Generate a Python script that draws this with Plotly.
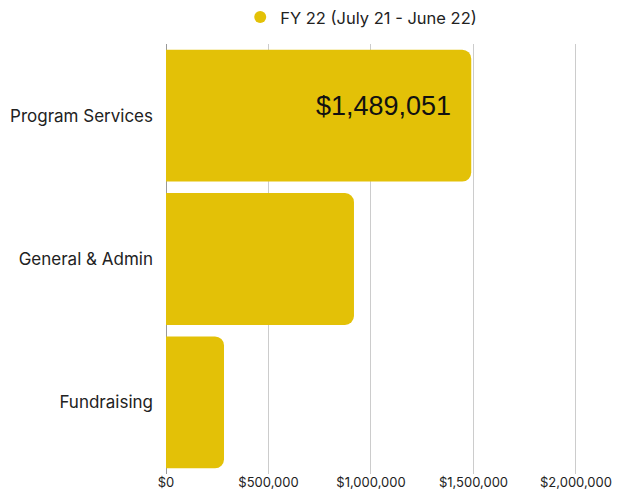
import plotly.graph_objects as go

categories = ["Program Services", "General & Admin", "Fundraising"]
values = [1489051, 917000, 283000]
series_name = "FY 22 (July 21 - June 22)"
tick_vals = [0, 500000, 1000000, 1500000, 2000000]
tick_text = ["$0", "$500,000", "$1,000,000", "$1,500,000", "$2,000,000"]
label_text = "$1,489,051"

color = "#E3C107"
font_family = "Inter, Open Sans, sans-serif"

fig = go.Figure()
fig.add_trace(go.Bar(
    y=categories, x=values, orientation="h",
    marker=dict(color=color, cornerradius=9, line=dict(width=0)),
    showlegend=False, hoverinfo="x+y",
))
fig.add_trace(go.Scatter(
    x=[None], y=[None], mode="markers", name=series_name,
    marker=dict(color=color, size=16, symbol="circle"),
))
fig.add_annotation(
    x=values[0], y=categories[0], xref="x", yref="y",
    text=label_text, showarrow=False, xanchor="right", yanchor="middle",
    xshift=-18, yshift=10,
    font=dict(family="Liberation Sans, Arial", size=27, color="#111111"),
)
fig.update_layout(
    width=613, height=485,
    margin=dict(l=158, r=44, t=36, b=19, autoexpand=False),
    paper_bgcolor="white", plot_bgcolor="white",
    bargap=0.08,
    font=dict(family=font_family, size=16.5, color="#222222"),
    legend=dict(orientation="h", x=0.475, xanchor="center", xref="paper",
                y=1.062, yanchor="middle", yref="paper",
                font=dict(size=16.5), itemsizing="constant"),
    xaxis=dict(range=[0, 2005000], tickvals=tick_vals, ticktext=tick_text,
               showgrid=True, gridcolor="#CCCCCC", gridwidth=1,
               zeroline=True, zerolinecolor="#999999", zerolinewidth=1,
               showline=False, ticks="", automargin=False, ticklabeloverflow="allow",
               ticklabelstandoff=-1, tickfont=dict(size=13)),
    yaxis=dict(categoryorder="array", categoryarray=categories[::-1],
               showgrid=False, ticks="", ticklabelstandoff=12, automargin=False,
               tickfont=dict(size=17)),
)
fig.write_html("out.html")
